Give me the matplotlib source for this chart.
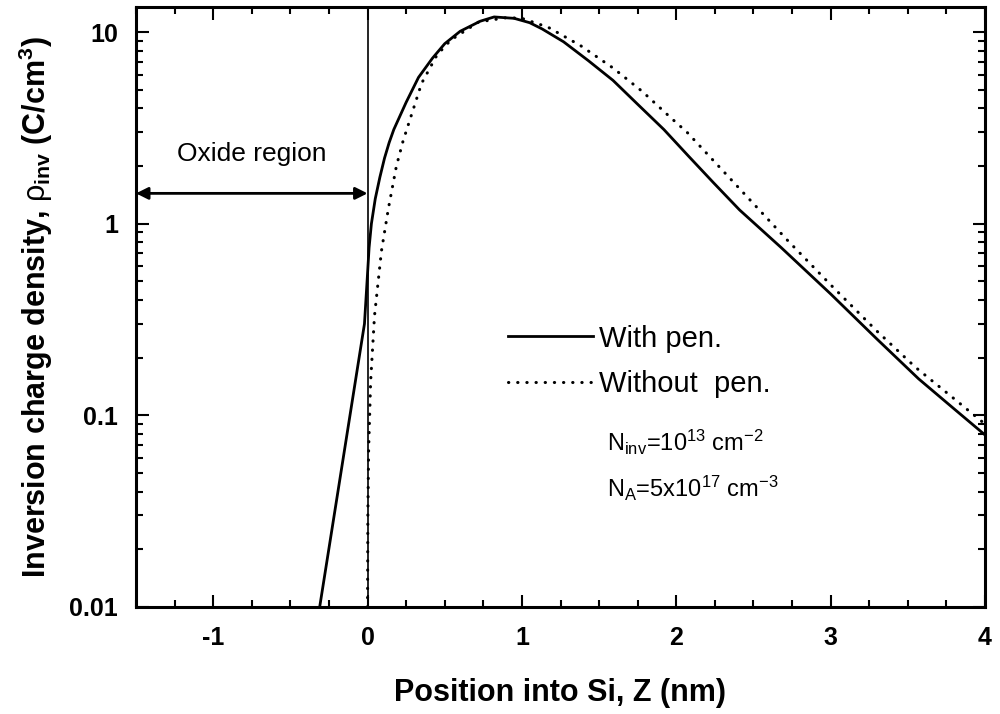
import numpy as np
import matplotlib as mpl
mpl.use('Agg')
import matplotlib.pyplot as plt

# with penetration (solid)
z_pen = [-0.31, -0.02, 0.0, 0.01, 0.025, 0.05, 0.08, 0.11, 0.14, 0.17, 0.25, 0.33, 0.42,
         0.50, 0.60, 0.73, 0.82, 0.95, 1.05, 1.13, 1.27, 1.43, 1.59, 1.75, 1.92,
         2.08, 2.24, 2.41, 2.68, 3.0, 3.30, 3.57, 3.80, 4.0]
rho_pen = [0.01, 0.30, 0.55, 0.75, 1.0, 1.35, 1.75, 2.2, 2.65, 3.1, 4.3, 5.8, 7.3,
           8.7, 10.1, 11.4, 12.0, 11.8, 11.2, 10.4, 8.9, 7.1, 5.6, 4.2, 3.1,
           2.25, 1.64, 1.18, 0.75, 0.43, 0.25, 0.155, 0.108, 0.079]

# without penetration (dotted)
z_nopen = [0.0, 0.002, 0.007, 0.02, 0.045, 0.09, 0.135, 0.187, 0.23,
           0.35, 0.45, 0.54, 0.72, 0.90, 1.0, 1.17, 1.38, 1.59, 1.78, 1.96, 2.07,
           2.37, 2.72, 3.0, 3.30, 3.55, 3.80, 4.0]
rho_nopen = [0.01, 0.03, 0.066, 0.15, 0.33, 0.72, 1.2, 2.0, 2.7,
             5.4, 7.6, 9.1, 11.3, 11.9, 11.8, 10.6, 8.5, 6.5, 4.9, 3.6, 3.0,
             1.65, 0.82, 0.48, 0.275, 0.178, 0.122, 0.09]

mpl.rcParams['font.family'] = ['Liberation Sans', 'DejaVu Sans']
mpl.rcParams['mathtext.fontset'] = 'custom'
mpl.rcParams['mathtext.rm'] = 'Liberation Sans'
mpl.rcParams['mathtext.bf'] = 'Liberation Sans:bold'
mpl.rcParams['mathtext.it'] = 'Liberation Sans'

fig = plt.figure(figsize=(10, 7.14), dpi=100)
ax = fig.add_axes([0.136, 0.150, 0.849, 0.840])

ax.plot(z_pen, rho_pen, color='black', lw=2.0, label='With pen.')
ax.plot(z_nopen, rho_nopen, color='black', lw=2.2, linestyle=(0, (0.1, 2.9)),
        dash_capstyle='round', label='Without  pen.')
ax.axvline(0, color='black', lw=1.2)

ax.set_yscale('log')
ax.set_xlim(-1.5, 4)
ax.set_ylim(0.01, 13.5)
ax.set_xticks([-1, 0, 1, 2, 3, 4])
ax.set_xticklabels(['-1', '0', '1', '2', '3', '4'])
ax.xaxis.set_minor_locator(mpl.ticker.MultipleLocator(0.25))
ax.set_yticks([0.01, 0.1, 1, 10])
ax.set_yticklabels(['0.01', '0.1', '1', '10'])
ax.yaxis.set_minor_locator(mpl.ticker.LogLocator(subs=np.arange(2, 10)))
ax.yaxis.set_minor_formatter(mpl.ticker.NullFormatter())

ax.tick_params(which='both', direction='in', top=True, right=True, width=1.5)
ax.tick_params(which='major', length=9, labelsize=18)
ax.tick_params(axis='y', which='major', pad=13)
ax.tick_params(axis='x', which='major', pad=14)
ax.tick_params(which='minor', length=5)
for lab in ax.get_xticklabels() + ax.get_yticklabels():
    lab.set_fontweight('bold')
for s in ax.spines.values():
    s.set_linewidth(2.2)

ax.set_xlabel('Position into Si, Z (nm)', fontsize=22, fontweight='bold', labelpad=20)
ax.set_ylabel(r'Inversion charge density, $\rho_{\mathregular{inv}}$ (C/cm$^{\mathregular{3}}$)',
              fontsize=22, fontweight='bold', labelpad=10)

# oxide region arrow
ax.annotate('', xy=(-1.5, 1.44), xytext=(0, 1.44),
            arrowprops=dict(arrowstyle='<|-|>', color='black', lw=2.0,
                            mutation_scale=18, shrinkA=0, shrinkB=0))
ax.text(-0.75, 2.3, 'Oxide region', fontsize=19, ha='center', va='center')

leg = ax.legend(loc='upper left', bbox_to_anchor=(0.425, 0.49), frameon=False,
                fontsize=21, handlelength=2.9, handletextpad=0.2, labelspacing=0.6,
                borderaxespad=0)

ax.text(0.555, 0.275, r'N$_{\mathregular{inv}}$=10$^{\mathregular{13}}$ cm$^{\mathregular{-2}}$',
        transform=ax.transAxes, fontsize=17, va='center')
ax.text(0.555, 0.197, r'N$_{\mathregular{A}}$=5x10$^{\mathregular{17}}$ cm$^{\mathregular{-3}}$',
        transform=ax.transAxes, fontsize=17, va='center')

fig.savefig('out.png', dpi=100)
